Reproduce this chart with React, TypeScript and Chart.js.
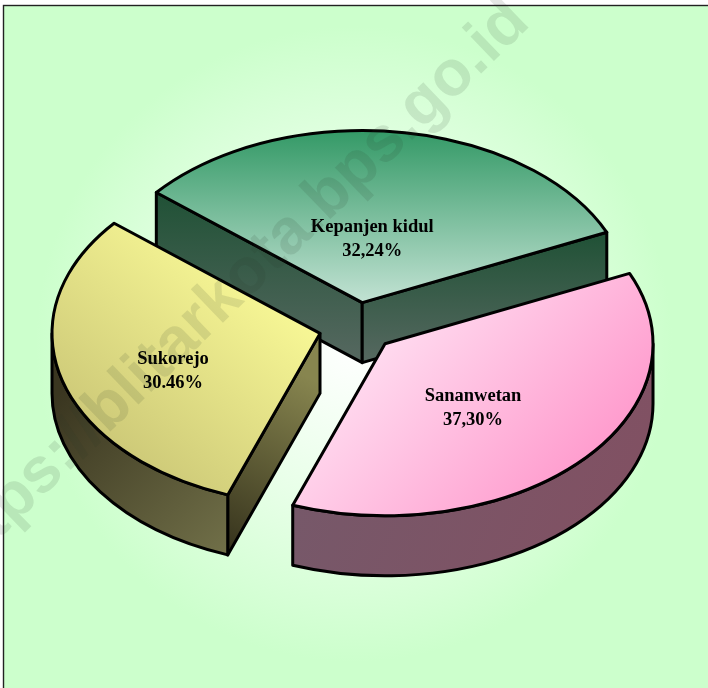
import React, { useEffect, useRef } from "react";
import { Chart, registerables } from "chart.js";

Chart.register(...registerables);

const regions = ["Kepanjen kidul", "Sananwetan", "Sukorejo"];
const shares = [32.24, 37.3, 30.46];
const shareLabels = ["32,24%", "37,30%", "30.46%"];
const watermarkText = "https://blitarkota.bps.go.id";

const TILT = 0.642;
const DEPTH = 60;
const SERIF = '"Liberation Serif", "Times New Roman", serif';

type G = [number, number, number, number, string, string];
// gradient vectors are relative to each slice's apex
const topFill: G[] = [
  [0, -173, 0, 0, "#339966", "#c2e2d3"],
  [0, -13, 185, 157, "#ffdcf0", "#ff99cc"],
  [-10, -34, -210, 206, "#fbfb98", "#bfba6e"],
];
const wallFill: G[] = [
  [0, 0, 0, 60, "#215135", "#215135"],
  [-90, 60, 260, 200, "#75596a", "#825062"],
  [-260, 60, -90, 230, "#3a3620", "#73724a"],
];
const faceFill: (G | null)[][] = [
  [[0, -113, 0, 59, "#1f5135", "#566860"], [0, -71, 0, 59, "#1f5135", "#566860"]],
  [null, null],
  [[-90, 220, 0, 50, "#35321c", "#87854f"], null],
];
const labelShift = [
  [10, -63],
  [88, 64],
  [-147, 38],
];

const makeGrad = (ctx: CanvasRenderingContext2D, ax: number, ay: number, g: G) => {
  const gr = ctx.createLinearGradient(ax + g[0], ay + g[1], ax + g[2], ay + g[3]);
  gr.addColorStop(0, g[4]);
  gr.addColorStop(1, g[5]);
  return gr;
};

const pie3d = {
  id: "pie3d",
  beforeDraw(chart: any) {
    const { ctx, width, height } = chart;
    ctx.save();
    ctx.fillStyle = "#ffffff";
    ctx.fillRect(0, 0, width, height);
    const bg = ctx.createRadialGradient(354, 344, 0, 354, 344, 318);
    bg.addColorStop(0, "#ffffff");
    bg.addColorStop(0.5, "#e8ffe8");
    bg.addColorStop(1, "#ccffcc");
    ctx.fillStyle = bg;
    ctx.fillRect(3, 5, width, height);
    ctx.strokeStyle = "#222222";
    ctx.lineWidth = 1.4;
    ctx.strokeRect(3.5, 5.5, width + 10, height + 10);
    ctx.restore();
  },
  beforeDatasetsDraw(chart: any) {
    const { ctx } = chart;
    const meta = chart.getDatasetMeta(0);
    const slices = meta.data.map((el: any, i: number) => {
      const p = el.getProps(["x", "y", "startAngle", "endAngle", "outerRadius"]);
      const mid = (p.startAngle + p.endAngle) / 2;
      const off = el.options.offset;
      return {
        i,
        a0: p.startAngle,
        a1: p.endAngle,
        r: p.outerRadius,
        ax: p.x + Math.cos(mid) * off,
        ay: p.y + Math.sin(mid) * off * TILT,
      };
    });
    const order = [...slices].sort((a, b) => a.ay - b.ay);
    ctx.save();
    ctx.lineJoin = "round";
    ctx.lineWidth = 3;
    ctx.strokeStyle = "#000000";
    for (const s of order) {
      const { i, a0, a1, r, ax, ay } = s;
      const ry = r * TILT;
      const rim = (a: number) => [ax + Math.cos(a) * r, ay + Math.sin(a) * ry];
      const face = (a: number, g: G | null) => {
        if (!g) return;
        const [x, y] = rim(a);
        ctx.beginPath();
        ctx.moveTo(ax, ay);
        ctx.lineTo(x, y);
        ctx.lineTo(x, y + DEPTH);
        ctx.lineTo(ax, ay + DEPTH);
        ctx.closePath();
        ctx.fillStyle = makeGrad(ctx, ax, ay, g);
        ctx.fill();
        ctx.stroke();
      };
      if (Math.cos(a0) < 0) face(a0, faceFill[i][0]);
      if (Math.cos(a1) > 0) face(a1, faceFill[i][1]);
      for (const k of [-2, 0, 2]) {
        const lo = Math.max(a0, k * Math.PI);
        const hi = Math.min(a1, (k + 1) * Math.PI);
        if (hi <= lo) continue;
        ctx.beginPath();
        ctx.ellipse(ax, ay, r, ry, 0, lo, hi);
        ctx.ellipse(ax, ay + DEPTH, r, ry, 0, hi, lo, true);
        ctx.closePath();
        ctx.fillStyle = makeGrad(ctx, ax, ay, wallFill[i]);
        ctx.fill();
        ctx.stroke();
      }
      ctx.beginPath();
      ctx.moveTo(ax, ay);
      ctx.ellipse(ax, ay, r, ry, 0, a0, a1);
      ctx.closePath();
      ctx.fillStyle = makeGrad(ctx, ax, ay, topFill[i]);
      ctx.fill();
      ctx.stroke();
    }
    ctx.font = `bold 18.5px ${SERIF}`;
    ctx.textAlign = "center";
    ctx.textBaseline = "middle";
    ctx.fillStyle = "#000000";
    for (const s of slices) {
      const lx = s.ax + labelShift[s.i][0];
      const ly = s.ay + labelShift[s.i][1];
      ctx.fillText(regions[s.i], lx, ly - 12);
      ctx.fillText(shareLabels[s.i], lx, ly + 12);
    }
    ctx.restore();
    return false;
  },
  afterDraw(chart: any) {
    const { ctx } = chart;
    ctx.save();
    ctx.translate(354, 344);
    ctx.rotate((-44 * Math.PI) / 180);
    ctx.font = 'bold 64px "Liberation Sans", Arial, sans-serif';
    ctx.textAlign = "center";
    ctx.textBaseline = "middle";
    ctx.fillStyle = "rgba(40,60,40,0.12)";
    ctx.fillText(watermarkText, -52, -124);
    ctx.restore();
  },
};

export default function App() {
  const ref = useRef<HTMLCanvasElement>(null);
  useEffect(() => {
    const chart = new Chart(ref.current!, {
      type: "pie",
      data: {
        labels: regions,
        datasets: [{ data: shares, offset: 38.3, borderWidth: 0 }],
      },
      options: {
        animation: false,
        responsive: false,
        rotation: -50.2,
        radius: 268,
        layout: { padding: { left: 6, bottom: 34 } },
        plugins: { legend: { display: false }, tooltip: { enabled: false } },
      } as any,
      plugins: [pie3d as any],
    });
    return () => chart.destroy();
  }, []);
  return (
    <canvas
      ref={ref}
      width={708}
      height={688}
      style={{ position: "fixed", left: 0, top: 0, width: 708, height: 688, display: "block" }}
    />
  );
}
